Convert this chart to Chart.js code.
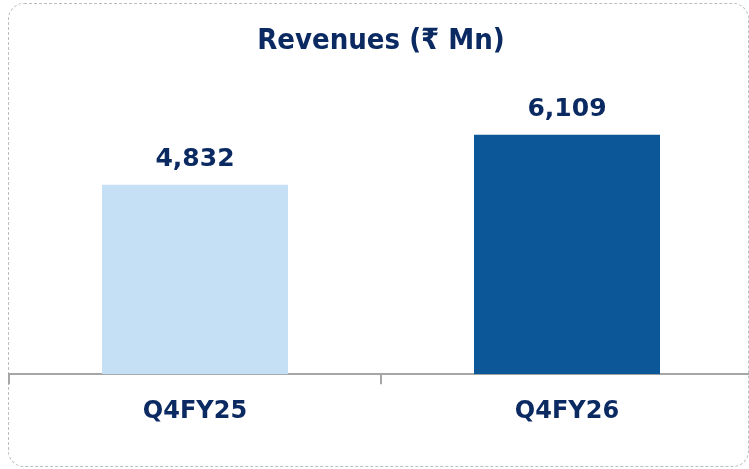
<!DOCTYPE html>
<html>
<head>
<meta charset="utf-8">
<script src="https://cdn.jsdelivr.net/npm/chart.js@4/dist/chart.umd.min.js"></script>
<style>
  html, body { margin: 0; padding: 0; background: #fff; overflow: hidden; width: 749px; height: 469px; }
  #frame { position: absolute; left: 8px; top: 3px; width: 741px; height: 464px; border: 1px dashed #bdbdbd; border-radius: 16px; box-sizing: border-box; }
  #wrap { position: absolute; left: 0; top: 0; width: 760px; height: 469px; }
</style>
</head>
<body>
<div id="frame"></div>
<div id="wrap"><canvas id="c" width="760" height="469"></canvas></div>
<script>
const titleText = "Revenues (₹ Mn)";
const categories = ["Q4FY25", "Q4FY26"];
const revenues = [4832, 6109];
const barColors = ["#C5E0F4", "#0B5797"];

const FONT_C = "'DejaVu Sans Condensed', 'DejaVu Sans', sans-serif";
const FONT = "'DejaVu Sans', sans-serif";
const NAVY = "#0B2A62";

const valueLabels = {
  id: 'valueLabels',
  afterDatasetsDraw(chart) {
    const ctx = chart.ctx;
    const meta = chart.getDatasetMeta(0);
    ctx.save();
    ctx.font = "bold 25px " + FONT;
    ctx.fillStyle = NAVY;
    ctx.textAlign = 'center';
    ctx.textBaseline = 'middle';
    meta.data.forEach((bar, i) => {
      const v = chart.data.datasets[0].data[i];
      ctx.fillText(v.toLocaleString('en-US'), bar.x, bar.y - 25);
    });
    ctx.restore();
  }
};

new Chart(document.getElementById('c'), {
  type: 'bar',
  data: {
    labels: categories,
    datasets: [{
      data: revenues,
      backgroundColor: barColors,
      borderWidth: 0,
      categoryPercentage: 0.5,
      barPercentage: 1.0
    }]
  },
  options: {
    responsive: false,
    animation: false,
    layout: { padding: { left: 9, right: 7, top: 0, bottom: 30 } },
    plugins: {
      legend: { display: false },
      tooltip: { enabled: false },
      title: {
        display: true,
        text: titleText,
        color: NAVY,
        font: { family: FONT_C, size: 29, weight: 'bold' },
        padding: { top: 24, bottom: 41 }
      }
    },
    scales: {
      y: { display: false, min: 0, max: 7000 },
      x: {
        offset: true,
        grid: { display: true, drawOnChartArea: false, tickLength: 10, color: '#A6A6A6', lineWidth: 2, offset: true },
        border: { display: true, color: '#A6A6A6', width: 2 },
        ticks: { color: NAVY, font: { family: FONT, size: 24, weight: 'bold' }, padding: 13 }
      }
    }
  },
  plugins: [valueLabels]
});
</script>
</body>
</html>
